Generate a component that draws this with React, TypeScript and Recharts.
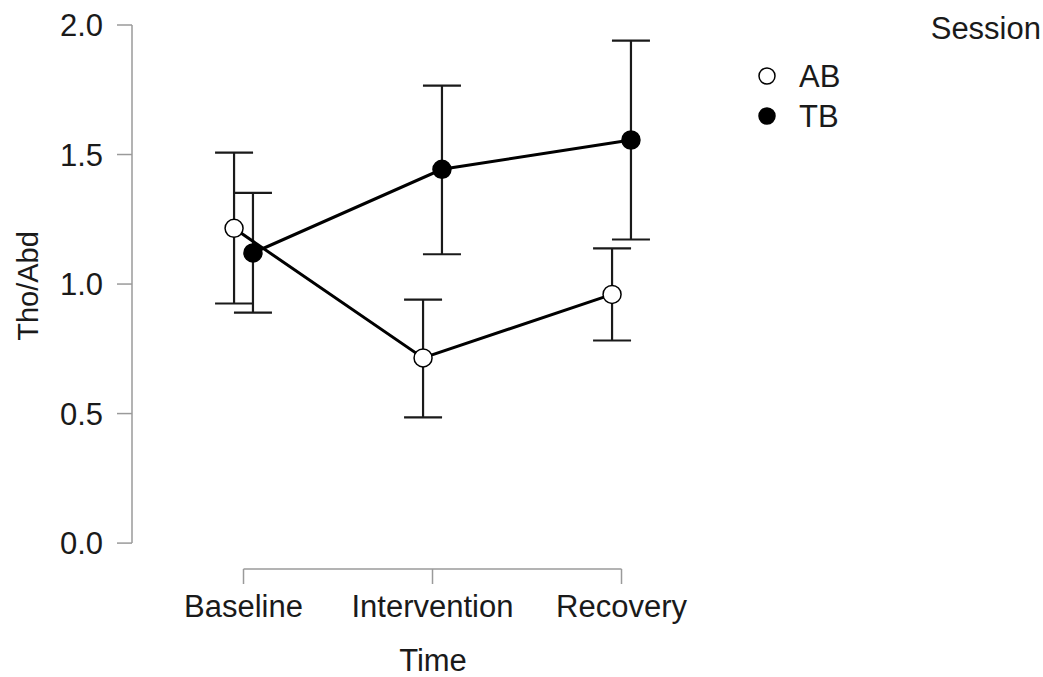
import {
  ComposedChart,
  ErrorBar,
  Legend,
  ReferenceLine,
  Scatter,
  XAxis,
  YAxis,
} from 'recharts'

const TIMES = ['Baseline', 'Intervention', 'Recovery']
const SESSIONS = ['AB', 'TB']

// mean and 95% CI bounds per time point
const AB_MEAN = [1.215, 0.715, 0.96]
const AB_LOWER = [0.925, 0.485, 0.782]
const AB_UPPER = [1.507, 0.94, 1.138]

const TB_MEAN = [1.12, 1.443, 1.556]
const TB_LOWER = [0.89, 1.115, 1.172]
const TB_UPPER = [1.352, 1.766, 1.94]

const Y_TICKS = [0, 0.5, 1, 1.5, 2]
const X_TICKS = [0, 1, 2]

const FONT = '"Liberation Sans", Arial, sans-serif'
const INK = '#1a1a1a'
const AXIS_GREY = '#9a9a9a'
const DODGE = 0.05
const Y_MIN = -0.1
const X_DOMAIN: [number, number] = [-0.59, 2.41]
const FS = 31

function buildSeries(mean: number[], lower: number[], upper: number[], shift: number) {
  return mean.map((m, i) => ({
    x: i + shift,
    y: m,
    ci: [m - lower[i], upper[i] - m],
  }))
}

const abData = buildSeries(AB_MEAN, AB_LOWER, AB_UPPER, -DODGE)
const tbData = buildSeries(TB_MEAN, TB_LOWER, TB_UPPER, DODGE)

const dot = (filled: boolean) => (props: any) => (
  <circle
    cx={props.cx}
    cy={props.cy}
    r={9}
    fill={filled ? '#000' : '#fff'}
    stroke="#000"
    strokeWidth={1.5}
  />
)

function SessionLegend() {
  return (
    <svg width={303} height={140} style={{ display: 'block' }}>
      <text x={301} y={28} textAnchor="end" dominantBaseline="central" fontSize={FS} fontFamily={FONT} fill={INK}>
        Session
      </text>
      {SESSIONS.map((s, i) => (
        <g key={s}>
          <circle cx={27} cy={76 + i * 40} r={8} fill={i === 0 ? '#fff' : '#000'} stroke="#000" strokeWidth={1.5} />
          <text x={59} y={76 + i * 40} dominantBaseline="central" fontSize={FS} fontFamily={FONT} fill={INK}>
            {s}
          </text>
        </g>
      ))}
    </svg>
  )
}

export default function App() {
  return (
    <div style={{ position: 'absolute', left: 0, top: 0 }}>
      <ComposedChart
        width={1043}
        height={677}
        margin={{ top: 25, right: 344, bottom: 0, left: 0 }}
        style={{ fontFamily: FONT }}
      >
        <XAxis
          type="number"
          dataKey="x"
          domain={X_DOMAIN}
          ticks={X_TICKS}
          tickFormatter={(v: number) => TIMES[v] ?? ''}
          axisLine={false}
          tickLine={{ stroke: AXIS_GREY, strokeWidth: 1.5 }}
          tickSize={15}
          tickMargin={11}
          height={108}
          interval={0}
          tick={{ fontSize: FS, fill: INK, fontFamily: FONT }}
          allowDataOverflow
          label={{
            content: () => (
              <text x={433} y={660} textAnchor="middle" dominantBaseline="central" fontSize={FS} fontFamily={FONT} fill={INK}>
                Time
              </text>
            ),
          }}
        />
        <YAxis
          type="number"
          dataKey="y"
          domain={[Y_MIN, 2]}
          ticks={Y_TICKS}
          tickFormatter={(v: number) => v.toFixed(1)}
          axisLine={false}
          tickLine={{ stroke: AXIS_GREY, strokeWidth: 1.5 }}
          tickSize={15}
          tickMargin={14}
          width={132}
          tick={{ fontSize: FS, fill: INK, fontFamily: FONT }}
          allowDataOverflow
          label={{
            content: () => (
              <text
                x={28}
                y={286}
                transform="rotate(-90 28 286)"
                textAnchor="middle"
                dominantBaseline="central"
                fontSize={29}
                fontFamily={FONT}
                fill={INK}
              >
                Tho/Abd
              </text>
            ),
          }}
        />
        {/* axis lines that stop at the outer ticks */}
        <ReferenceLine
          segment={[{ x: X_DOMAIN[0], y: 0 }, { x: X_DOMAIN[0], y: 2 }]}
          stroke={AXIS_GREY}
          strokeWidth={1.5}
          ifOverflow="visible"
        />
        <ReferenceLine
          segment={[{ x: 0, y: Y_MIN }, { x: 2, y: Y_MIN }]}
          stroke={AXIS_GREY}
          strokeWidth={1.5}
          ifOverflow="visible"
        />
        <Scatter
          name="AB"
          data={abData}
          line={{ stroke: '#000', strokeWidth: 3 }}
          lineType="joint"
          shape={dot(false)}
          isAnimationActive={false}
        >
          <ErrorBar dataKey="ci" direction="y" width={19} stroke={INK} strokeWidth={2.2} isAnimationActive={false} />
        </Scatter>
        <Scatter
          name="TB"
          data={tbData}
          line={{ stroke: '#000', strokeWidth: 3 }}
          lineType="joint"
          shape={dot(true)}
          isAnimationActive={false}
        >
          <ErrorBar dataKey="ci" direction="y" width={19} stroke={INK} strokeWidth={2.2} isAnimationActive={false} />
        </Scatter>
        <Legend
          layout="horizontal"
          verticalAlign="middle"
          align="center"
          content={() => <SessionLegend />}
          wrapperStyle={{ position: 'absolute', left: 740, top: 0, width: 303, height: 140 }}
        />
      </ComposedChart>
    </div>
  )
}
